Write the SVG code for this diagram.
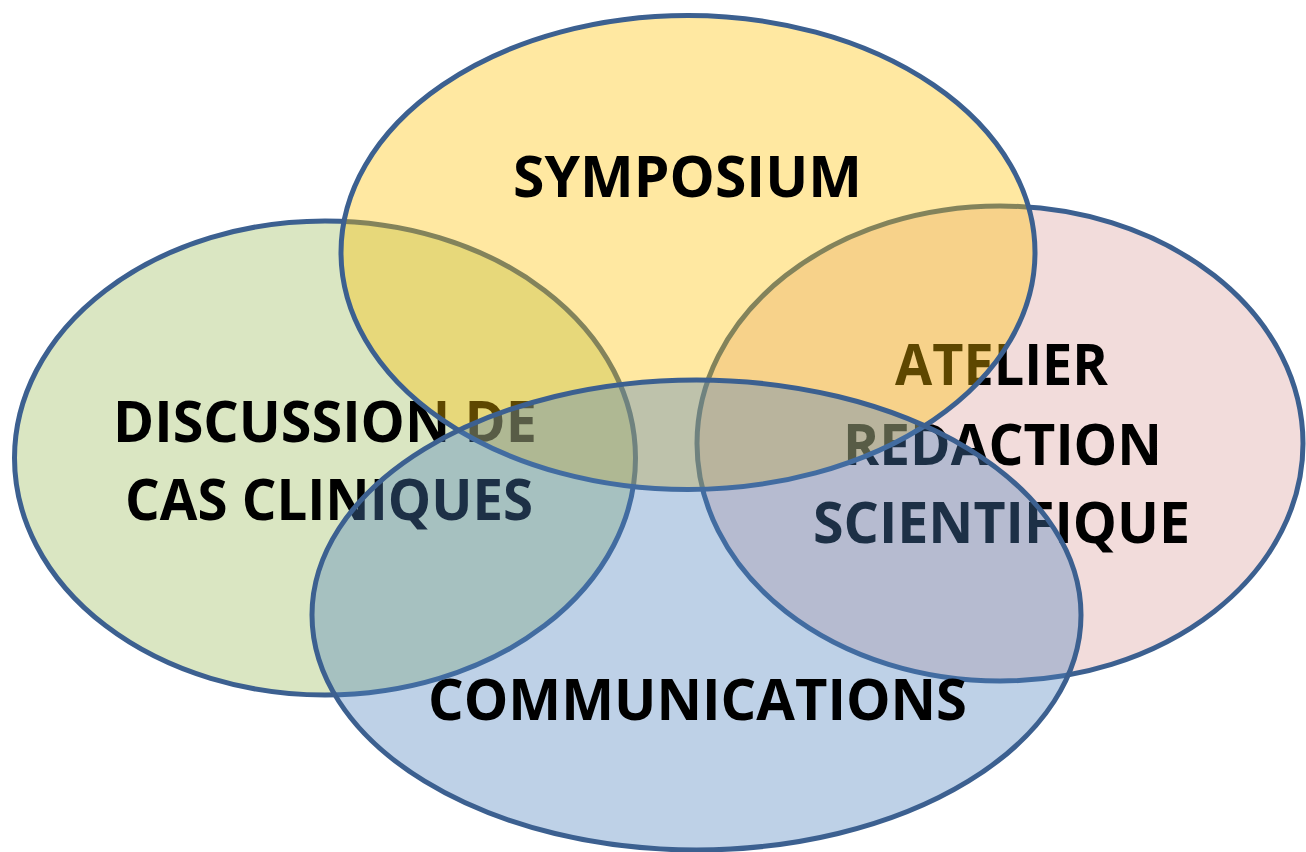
<svg xmlns="http://www.w3.org/2000/svg" width="1306" height="852" viewBox="0 0 1306 852">
<style>
.c{stroke:#3C6090;stroke-width:5;fill-opacity:0.37}
.t{font-family:"Open Sans","Liberation Sans",sans-serif;font-weight:700;font-size:58px;fill:#000;text-anchor:middle}
</style>
<rect width="1306" height="852" fill="#fff"/>
<g id="discussion">
<ellipse class="c" cx="325" cy="458" rx="310.5" ry="237" fill="#9BBB59"/>
<text class="t" x="325" y="442" textLength="424" lengthAdjust="spacingAndGlyphs">DISCUSSION DE</text>
<text class="t" x="329" y="520" textLength="408" lengthAdjust="spacingAndGlyphs">CAS CLINIQUES</text>
</g>
<g id="atelier">
<ellipse class="c" cx="1000" cy="443.5" rx="303" ry="237.5" fill="#C0504D" style="fill-opacity:0.2"/>
<text class="t" x="1001.5" y="385" textLength="213" lengthAdjust="spacingAndGlyphs">ATELIER</text>
<text class="t" x="1002.5" y="465" textLength="319" lengthAdjust="spacingAndGlyphs">REDACTION</text>
<text class="t" x="1001.5" y="543" textLength="377" lengthAdjust="spacingAndGlyphs">SCIENTIFIQUE</text>
</g>
<g id="symposium">
<ellipse class="c" cx="688" cy="252.5" rx="347" ry="237" fill="#FFC000"/>
<text class="t" x="687.5" y="197" textLength="349" lengthAdjust="spacingAndGlyphs">SYMPOSIUM</text>
</g>
<g id="communications">
<ellipse class="c" cx="696.5" cy="615" rx="384.5" ry="235" fill="#4F81BD"/>
<text class="t" x="697.5" y="720" textLength="539" lengthAdjust="spacingAndGlyphs">COMMUNICATIONS</text>
</g>
<g id="connectors"/>
</svg>
